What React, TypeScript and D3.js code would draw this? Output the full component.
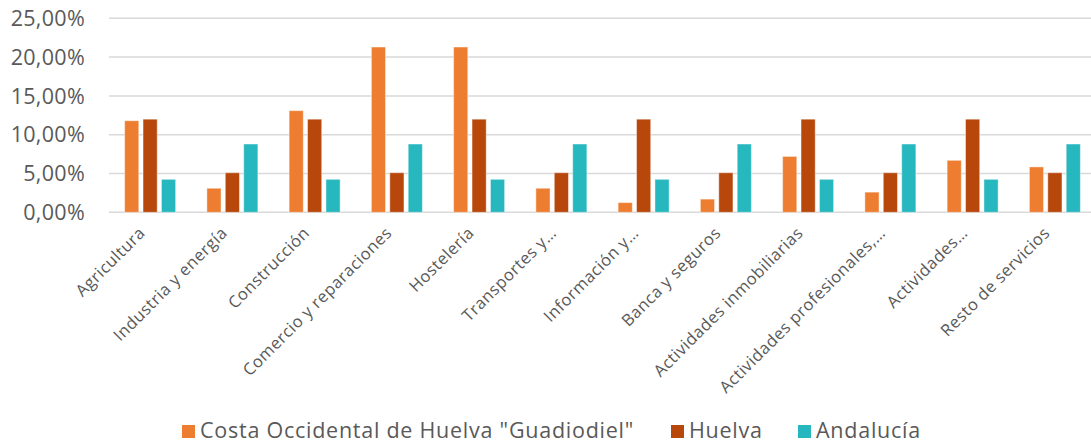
import React from "react";
import * as d3 from "d3";

const categories = [
  "Agricultura",
  "Industria y energía",
  "Construcción",
  "Comercio y reparaciones",
  "Hostelería",
  "Transportes y…",
  "Información y…",
  "Banca y seguros",
  "Actividades inmobiliarias",
  "Actividades profesionales,…",
  "Actividades…",
  "Resto de servicios",
];

const seriesNames = ['Costa Occidental de Huelva "Guadiodiel"', "Huelva", "Andalucía"];

const costaValues = [11.8, 3.1, 13.1, 21.3, 21.3, 3.1, 1.25, 1.7, 7.2, 2.6, 6.7, 5.85];
const huelvaValues = [12.0, 5.1, 12.0, 5.1, 12.0, 5.1, 12.0, 5.1, 12.0, 5.1, 12.0, 5.1];
const andaluciaValues = [4.25, 8.8, 4.25, 8.8, 4.25, 8.8, 4.25, 8.8, 4.25, 8.8, 4.25, 8.8];

const yTicks = [0, 5, 10, 15, 20, 25];

const colors = ["#ED7D31", "#B7470B", "#27B7BE"];

const W = 1091;
const H = 443;
const FONT = "'Open Sans', 'Noto Sans', sans-serif";
const TEXT = "#595959";

export default function App() {
  const allSeries = [costaValues, huelvaValues, andaluciaValues];
  const x0 = d3.scaleBand<string>().domain(categories).range([109, 1096]).padding(0);
  const groupW = 51;
  const x1 = d3
    .scaleBand<number>()
    .domain([0, 1, 2])
    .range([(x0.bandwidth() - groupW) / 2, (x0.bandwidth() + groupW) / 2])
    .paddingInner(0.23);
  const y = d3.scaleLinear().domain([0, 25]).range([212.3, 18.3]);
  const fmt = (v: number) => v.toFixed(2).replace(".", ",") + "%";

  const legendX = [182, 671, 798];

  return (
    <div style={{ position: "absolute", left: 0, top: 0 }}>
      <svg width={W} height={H} style={{ display: "block", background: "#fff" }}>
        {yTicks.map((t) => (
          <g key={t}>
            <line x1={109} x2={1096} y1={y(t)} y2={y(t)} stroke="#D9D9D9" strokeWidth={1.5} />
            <text
              x={85}
              y={y(t)}
              dy="0.36em"
              textAnchor="end"
              fontFamily={FONT}
              fontSize={21.5}
              letterSpacing={0.3}
              fill={TEXT}
            >
              {fmt(t)}
            </text>
          </g>
        ))}
        {categories.map((c, i) => (
          <g key={c} transform={`translate(${x0(c)},0)`}>
            {allSeries.map((s, si) => (
              <rect
                key={si}
                x={x1(si)}
                y={y(s[i])}
                width={x1.bandwidth()}
                height={y(0) - y(s[i])}
                fill={colors[si]}
                stroke="#ffffff"
                strokeOpacity={0.45}
                strokeWidth={1}
              />
            ))}
          </g>
        ))}
        {categories.map((c) => {
          const cx = (x0(c) as number) + x0.bandwidth() / 2 - 4;
          const cy = 234;
          return (
            <text
              key={c}
              transform={`translate(${cx},${cy}) rotate(-45)`}
              textAnchor="end"
              fontFamily={FONT}
              fontSize={16.5}
              letterSpacing={0.5}
              fill={TEXT}
            >
              {c}
            </text>
          );
        })}
        {seriesNames.map((n, i) => (
          <g key={n}>
            <rect x={legendX[i]} y={425} width={13} height={13} fill={colors[i]} />
            <text
              x={legendX[i] + 18}
              y={438}
              fontFamily={FONT}
              fontSize={21.5}
              letterSpacing={0.75}
              fill={TEXT}
            >
              {n}
            </text>
          </g>
        ))}
      </svg>
    </div>
  );
}
